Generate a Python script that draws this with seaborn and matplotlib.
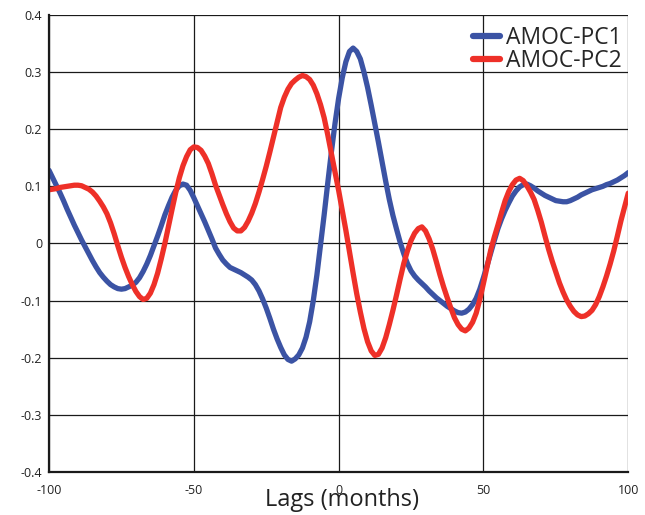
import numpy as np
import pandas as pd
import matplotlib
matplotlib.use("Agg")
import matplotlib.pyplot as plt
import seaborn as sns

# lags in months, one reading every 1.25 months (8 readings per row = 10 months)
lags = np.linspace(-100, 100, 161)

pc1 = [0.128, 0.115, 0.102, 0.089, 0.075, 0.060, 0.046, 0.032,
       0.019, 0.006, -0.006, -0.018, -0.030, -0.041, -0.051, -0.059,
       -0.066, -0.072, -0.076, -0.079, -0.080, -0.079, -0.076, -0.073,
       -0.068, -0.060, -0.049, -0.036, -0.021, -0.004, 0.013, 0.031,
       0.050, 0.066, 0.081, 0.093, 0.101, 0.104, 0.102, 0.093,
       0.080, 0.066, 0.052, 0.038, 0.023, 0.008, -0.008, -0.019,
       -0.029, -0.036, -0.042, -0.045, -0.048, -0.051, -0.055, -0.059,
       -0.064, -0.072, -0.083, -0.097, -0.113, -0.131, -0.150, -0.167,
       -0.182, -0.195, -0.203, -0.206, -0.202, -0.195, -0.183, -0.164,
       -0.137, -0.100, -0.055, -0.003, 0.050, 0.106, 0.160, 0.210,
       0.254, 0.290, 0.318, 0.336, 0.342, 0.336, 0.323, 0.300,
       0.273, 0.242, 0.210, 0.177, 0.143, 0.109, 0.077, 0.049,
       0.025, 0.002, -0.018, -0.035, -0.048, -0.057, -0.064, -0.070,
       -0.076, -0.083, -0.089, -0.095, -0.100, -0.105, -0.110, -0.114,
       -0.118, -0.121, -0.122, -0.120, -0.115, -0.107, -0.096, -0.080,
       -0.060, -0.039, -0.017, 0.005, 0.026, 0.043, 0.058, 0.071,
       0.083, 0.092, 0.099, 0.103, 0.104, 0.101, 0.097, 0.092,
       0.088, 0.084, 0.081, 0.078, 0.075, 0.074, 0.073, 0.073,
       0.075, 0.078, 0.081, 0.085, 0.088, 0.091, 0.094, 0.096,
       0.098, 0.100, 0.103, 0.105, 0.108, 0.111, 0.115, 0.119,
       0.124]

pc2 = [0.094, 0.095, 0.096, 0.098, 0.099, 0.100, 0.101, 0.102,
       0.102, 0.101, 0.098, 0.095, 0.090, 0.083, 0.074, 0.064,
       0.052, 0.036, 0.017, -0.004, -0.024, -0.042, -0.058, -0.072,
       -0.084, -0.093, -0.098, -0.096, -0.087, -0.072, -0.052, -0.027,
       0.000, 0.030, 0.060, 0.089, 0.115, 0.136, 0.152, 0.164,
       0.169, 0.168, 0.163, 0.153, 0.140, 0.122, 0.102, 0.085,
       0.068, 0.052, 0.038, 0.027, 0.022, 0.022, 0.028, 0.039,
       0.053, 0.070, 0.090, 0.112, 0.135, 0.160, 0.186, 0.212,
       0.238, 0.256, 0.270, 0.280, 0.286, 0.291, 0.294, 0.292,
       0.287, 0.277, 0.262, 0.243, 0.220, 0.190, 0.157, 0.125,
       0.093, 0.058, 0.023, -0.015, -0.052, -0.088, -0.120, -0.149,
       -0.172, -0.188, -0.196, -0.194, -0.183, -0.165, -0.142, -0.117,
       -0.090, -0.062, -0.035, -0.013, 0.005, 0.018, 0.026, 0.029,
       0.022, 0.008, -0.010, -0.032, -0.055, -0.076, -0.095, -0.113,
       -0.130, -0.142, -0.150, -0.153, -0.148, -0.138, -0.122, -0.098,
       -0.070, -0.041, -0.012, 0.011, 0.032, 0.054, 0.075, 0.091,
       0.103, 0.111, 0.114, 0.110, 0.101, 0.090, 0.077, 0.058,
       0.037, 0.013, -0.010, -0.031, -0.050, -0.069, -0.085, -0.099,
       -0.110, -0.119, -0.125, -0.128, -0.127, -0.123, -0.117, -0.107,
       -0.093, -0.076, -0.057, -0.036, -0.013, 0.013, 0.040, 0.064,
       0.088]

series_names = ["AMOC-PC1", "AMOC-PC2"]
colors = {"AMOC-PC1": "#3b53a4", "AMOC-PC2": "#ee3028"}
yticklabels = ["-0.4", "-0.3", "-0.2", "-0.1", "0", "0.1", "0.2", "0.3", "0.4"]

df = pd.DataFrame({"lag": np.concatenate([lags, lags]),
                   "corr": pc1 + pc2,
                   "series": [series_names[0]] * len(lags) + [series_names[1]] * len(lags)})

sns.set_style("white")
plt.rcParams["font.family"] = ["Open Sans", "DejaVu Sans"]
plt.rcParams["axes.unicode_minus"] = False

fig = plt.figure(figsize=(6.45, 5.15), dpi=100)
ax = fig.add_axes([0.076, 0.0835, 0.898, 0.8875])

sns.lineplot(data=df, x="lag", y="corr", hue="series", palette=colors,
             linewidth=3.8, ax=ax, solid_capstyle="round", solid_joinstyle="round")

ax.set_xlim(-100, 100)
ax.set_ylim(-0.4, 0.4)
ax.set_xticks([-100, -50, 0, 50, 100])
ax.set_yticks(np.arange(-0.4, 0.41, 0.1))
ax.set_yticklabels(yticklabels)
ax.tick_params(length=0, labelsize=9, colors="#222222")
ax.tick_params(axis="x", pad=9)
ax.tick_params(axis="y", pad=5)
ax.grid(True, color="#1a1a1a", linewidth=0.9)
ax.set_axisbelow(True)
for s in ["top", "right"]:
    ax.spines[s].set_visible(False)
for s in ["left", "bottom"]:
    ax.spines[s].set_color("#1a1a1a")
    ax.spines[s].set_linewidth(1.6)

# the label sits low, over the "0" tick label, as in the original
ax.set_ylabel("")
ax.set_xlabel("Lags (months)", fontsize=17, color="#222222")
ax.xaxis.set_label_coords(0.505, -0.034)

leg = ax.legend(loc="upper right", bbox_to_anchor=(1.005, 0.995), frameon=False,
                fontsize=16.5, handlelength=1.2, handletextpad=0.25,
                labelspacing=-0.05, borderaxespad=0.0)
for line in leg.get_lines():
    line.set_linewidth(4.5)

fig.savefig("out.png", dpi=100, facecolor="white")
